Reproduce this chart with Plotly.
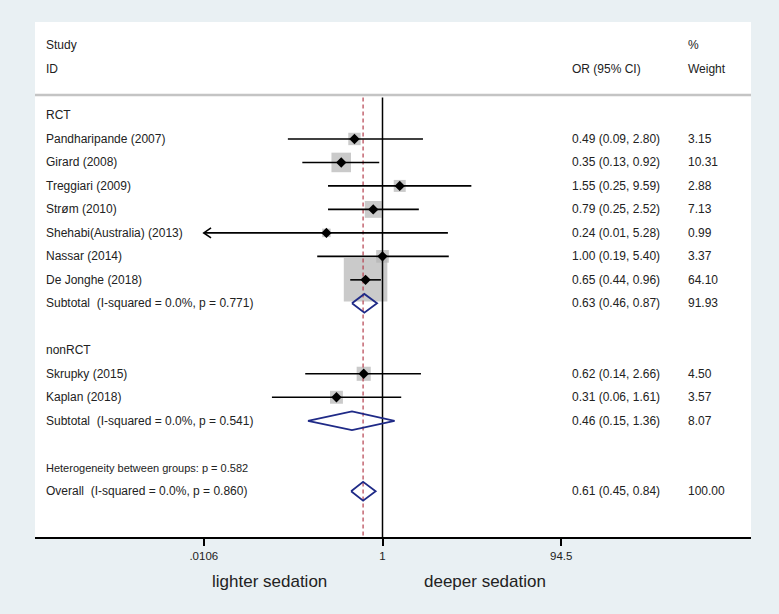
import math
import plotly.graph_objects as go

# ---------------- data ----------------
studies = ["Pandharipande (2007)", "Girard (2008)", "Treggiari (2009)", "Strøm (2010)",
           "Shehabi(Australia) (2013)", "Nassar (2014)", "De Jonghe (2018)",
           "Skrupky (2015)", "Kaplan (2018)"]
groups = ["RCT"] * 7 + ["nonRCT"] * 2
or_est = [0.49, 0.35, 1.55, 0.79, 0.24, 1.00, 0.65, 0.62, 0.31]
ci_lo = [0.09, 0.13, 0.25, 0.25, 0.01, 0.19, 0.44, 0.14, 0.06]
ci_hi = [2.80, 0.92, 9.59, 2.52, 5.28, 5.40, 0.96, 2.66, 1.61]
weights = [3.15, 10.31, 2.88, 7.13, 0.99, 3.37, 64.10, 4.50, 3.57]

group_names = ["RCT", "nonRCT"]
sub_labels = ["Subtotal\u00a0 (I-squared = 0.0%, p = 0.771)",
              "Subtotal\u00a0 (I-squared = 0.0%, p = 0.541)"]
sub_est = [0.63, 0.46]
sub_lo = [0.46, 0.15]
sub_hi = [0.87, 1.36]
sub_w = [91.93, 8.07]

het_label = "Heterogeneity between groups: p = 0.582"
overall_label = "Overall\u00a0 (I-squared = 0.0%, p = 0.860)"
overall_est = 0.61
overall_lo = 0.45
overall_hi = 0.84
overall_w = 100.00

tick_vals = [0.0106, 1, 94.5]
tick_text = [".0106", "1", "94.5"]
left_label = "lighter sedation"
right_label = "deeper sedation"

# ---------------- layout of rows ----------------
TXT = "#222222"
NAVY = "#1f2a87"
BG = "#e9f0f3"
FONT = "Liberation Sans, Arial, sans-serif"

rows = []
r = 3
study_rows = []
sub_rows = []
for g_i, g in enumerate(group_names):
    rows.append((r, "group", g))
    r += 1
    for i, s in enumerate(studies):
        if groups[i] == g:
            study_rows.append((r, i))
            r += 1
    sub_rows.append((r, g_i))
    r += 2
het_row = r
overall_row = r + 1

y_top = -0.98
y_bot = 20.95
line_top = 2.23

fig = go.Figure()

# boxes
fig.add_trace(go.Scatter(
    x=[or_est[i] for _, i in study_rows], y=[rr for rr, _ in study_rows],
    mode="markers",
    marker=dict(symbol="square", size=[5.0 * math.sqrt(weights[i]) + 3.5 for _, i in study_rows],
                color="#b4b4b4", line=dict(width=0)),
    hoverinfo="skip"))

# reference lines
fig.add_trace(go.Scatter(x=[1, 1], y=[line_top, y_bot], mode="lines",
                         line=dict(color="black", width=1.5), hoverinfo="skip"))
fig.add_trace(go.Scatter(x=[overall_est, overall_est], y=[line_top, y_bot], mode="lines",
                         line=dict(color="#b5404e", width=1.2, dash="4px,3px"), hoverinfo="skip"))

xmin_clip = tick_vals[0]
xmax_clip = tick_vals[-1]
ARM_DEC = 0.08   # chevron arm length in decades
ARM_ROW = 0.21   # chevron arm half-height in rows
# CI lines
for rr, i in study_rows:
    lo = max(ci_lo[i], xmin_clip)
    hi = min(ci_hi[i], xmax_clip)
    fig.add_trace(go.Scatter(x=[lo, hi], y=[rr, rr], mode="lines",
                             line=dict(color="black", width=1.6), hoverinfo="skip"))
    if ci_lo[i] < xmin_clip:
        k = 10 ** ARM_DEC
        fig.add_trace(go.Scatter(x=[lo * k, lo, lo * k], y=[rr - ARM_ROW, rr, rr + ARM_ROW],
                                 mode="lines", line=dict(color="black", width=1.6),
                                 hoverinfo="skip"))
    if ci_hi[i] > xmax_clip:
        k = 10 ** ARM_DEC
        fig.add_trace(go.Scatter(x=[hi / k, hi, hi / k], y=[rr - ARM_ROW, rr, rr + ARM_ROW],
                                 mode="lines", line=dict(color="black", width=1.6),
                                 hoverinfo="skip"))

# point estimates
fig.add_trace(go.Scatter(
    x=[or_est[i] for _, i in study_rows], y=[rr for rr, _ in study_rows],
    mode="markers", marker=dict(symbol="diamond", size=8, color="black"),
    hoverinfo="skip"))

# diamonds
def diamond(est, lo, hi, row, h=0.4):
    fig.add_trace(go.Scatter(x=[lo, est, hi, est, lo], y=[row, row - h, row, row + h, row],
                             mode="lines", line=dict(color=NAVY, width=1.8),
                             hoverinfo="skip"))

for rr, g_i in sub_rows:
    diamond(sub_est[g_i], sub_lo[g_i], sub_hi[g_i], rr)
diamond(overall_est, overall_lo, overall_hi, overall_row)

# ---------------- text columns ----------------
X_LABEL = 0.0126
X_OR = 0.7475
X_W = 0.909

def txt(x, y, s, size=12):
    fig.add_annotation(x=x, y=y, xref="paper", yref="y", text=s, showarrow=False,
                       xanchor="left", yanchor="middle",
                       font=dict(family=FONT, size=size, color=TXT))

txt(X_LABEL, 0, "Study")
txt(X_LABEL, 1, "ID")
txt(X_OR, 1, "OR (95% CI)")
txt(X_W, 0, "%")
txt(X_W, 1, "Weight")

for rr, kind, payload in rows:
    txt(X_LABEL, rr, payload)
for rr, i in study_rows:
    txt(X_LABEL, rr, studies[i])
    txt(X_OR, rr, f"{or_est[i]:.2f} ({ci_lo[i]:.2f}, {ci_hi[i]:.2f})")
    txt(X_W, rr, f"{weights[i]:.2f}")
for rr, g_i in sub_rows:
    txt(X_LABEL, rr, sub_labels[g_i])
    txt(X_OR, rr, f"{sub_est[g_i]:.2f} ({sub_lo[g_i]:.2f}, {sub_hi[g_i]:.2f})")
    txt(X_W, rr, f"{sub_w[g_i]:.2f}")
txt(X_LABEL, het_row, het_label, size=11)
txt(X_LABEL, overall_row, overall_label)
txt(X_OR, overall_row, f"{overall_est:.2f} ({overall_lo:.2f}, {overall_hi:.2f})")
txt(X_W, overall_row, f"{overall_w:.2f}")

# header separator
fig.add_shape(type="line", xref="paper", yref="y", x0=0, x1=1, y0=line_top - 0.1, y1=line_top - 0.1,
              line=dict(color="#c4c4c4", width=2.5))

# bottom labels
for s, xp in [(left_label, 0.328), (right_label, 0.629)]:
    fig.add_annotation(x=xp, y=-0.0865, xref="paper", yref="paper", text=s, showarrow=False,
                       xanchor="center", yanchor="middle",
                       font=dict(family=FONT, size=17, color=TXT))

fig.update_layout(
    width=779, height=614,
    margin=dict(l=35, r=28, t=22, b=77),
    paper_bgcolor=BG, plot_bgcolor="white",
    showlegend=False,
    font=dict(family=FONT, color=TXT),
)
fig.update_xaxes(type="log", range=[-3.84, 4.072], showgrid=False, zeroline=False,
                 showline=True, linecolor="black", linewidth=1.5,
                 ticks="outside", ticklen=7, tickwidth=1.5, tickcolor="black",
                 tickvals=tick_vals, ticktext=tick_text,
                 tickfont=dict(family=FONT, size=11.5, color=TXT))
fig.update_yaxes(range=[y_bot, y_top], visible=False, showgrid=False, zeroline=False)

fig.write_html(
    "out.html",
    config={"displayModeBar": False},
    post_script="document.body.style.margin='0';document.body.style.overflow='hidden';"
                "document.body.style.background='" + BG + "';",
)
